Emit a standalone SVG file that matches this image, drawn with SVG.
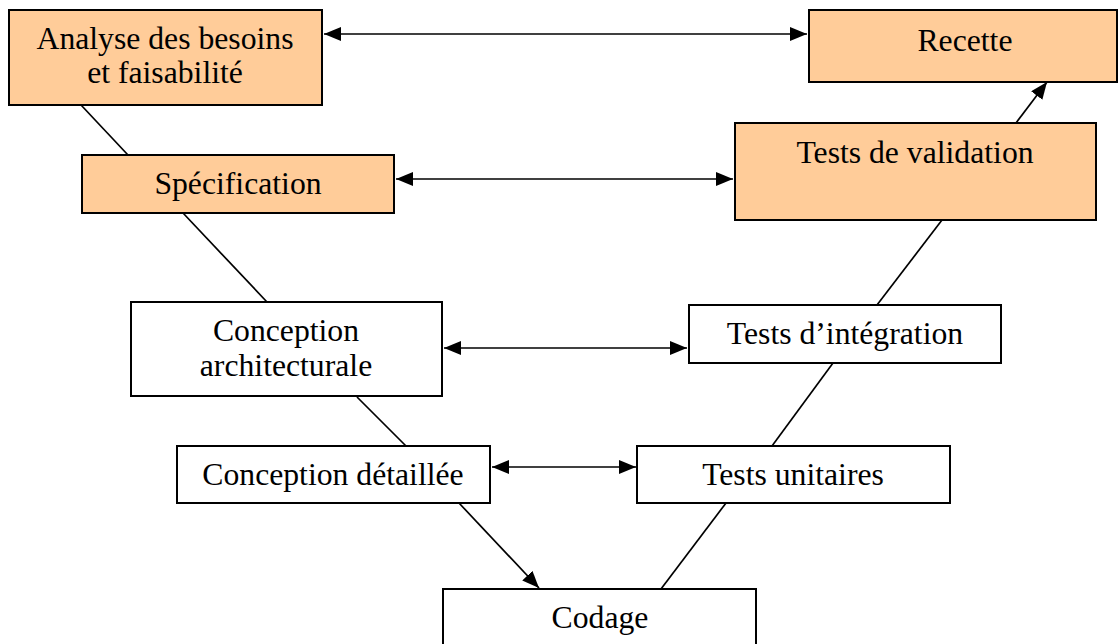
<svg xmlns="http://www.w3.org/2000/svg" width="1119" height="644" viewBox="0 0 1119 644">
<defs>
<style>
.box{stroke:#000;stroke-width:2}
.hi{fill:#FFCC99}
.lo{fill:#FFFFFF}
.t{font-family:"Liberation Serif","Times New Roman",serif;font-size:31.7px;fill:#000;text-anchor:middle}
.c{stroke:#000;stroke-width:1.7;fill:none}
</style>
<marker id="ah" viewBox="0 0 17 14" refX="17" refY="7" markerWidth="17" markerHeight="14" markerUnits="userSpaceOnUse" orient="auto-start-reverse">
<path d="M0,0 L17,7 L0,14 Z" fill="#000"/>
</marker>
</defs>
<rect width="1119" height="644" fill="#fff"/>
<g id="connectors">
<line class="c" x1="324" y1="34" x2="807" y2="34" marker-start="url(#ah)" marker-end="url(#ah)"/>
<line class="c" x1="396" y1="179" x2="733" y2="179" marker-start="url(#ah)" marker-end="url(#ah)"/>
<line class="c" x1="444" y1="348" x2="687" y2="348" marker-start="url(#ah)" marker-end="url(#ah)"/>
<line class="c" x1="492" y1="467" x2="636" y2="467" marker-start="url(#ah)" marker-end="url(#ah)"/>
<line class="c" x1="81" y1="105" x2="128" y2="155"/>
<line class="c" x1="183" y1="213" x2="267" y2="302"/>
<line class="c" x1="357" y1="397" x2="406" y2="446"/>
<line class="c" x1="459" y1="503" x2="539" y2="588" marker-end="url(#ah)"/>
<line class="c" x1="661" y1="589" x2="726" y2="503"/>
<line class="c" x1="772" y1="446" x2="833" y2="363"/>
<line class="c" x1="877" y1="305" x2="942" y2="220"/>
<line class="c" x1="1016" y1="123" x2="1047" y2="82" marker-end="url(#ah)"/>
</g>
<g id="analyse">
<rect class="box hi" x="9" y="10" width="313" height="95"/>
<text class="t" x="165" y="49">Analyse des besoins</text>
<text class="t" x="165" y="83">et faisabilité</text>
</g>
<g id="recette">
<rect class="box hi" x="809" y="10" width="308" height="72"/>
<text class="t" x="965" y="51">Recette</text>
</g>
<g id="specification">
<rect class="box hi" x="82" y="155" width="312" height="58"/>
<text class="t" x="238" y="194">Spécification</text>
</g>
<g id="validation">
<rect class="box hi" x="735" y="123" width="361" height="97"/>
<text class="t" x="915" y="163">Tests de validation</text>
</g>
<g id="conception-arch">
<rect class="box lo" x="131" y="302" width="311" height="94"/>
<text class="t" x="286" y="341">Conception</text>
<text class="t" x="286" y="376">architecturale</text>
</g>
<g id="integration">
<rect class="box lo" x="689" y="305" width="312" height="58"/>
<text class="t" x="845" y="344">Tests d’intégration</text>
</g>
<g id="conception-det">
<rect class="box lo" x="177" y="446" width="313" height="57"/>
<text class="t" x="333" y="485">Conception détaillée</text>
</g>
<g id="unitaires">
<rect class="box lo" x="637" y="446" width="313" height="57"/>
<text class="t" x="793" y="485">Tests unitaires</text>
</g>
<g id="codage">
<rect class="box lo" x="443" y="589" width="313" height="70"/>
<text class="t" x="600" y="628">Codage</text>
</g>
</svg>
